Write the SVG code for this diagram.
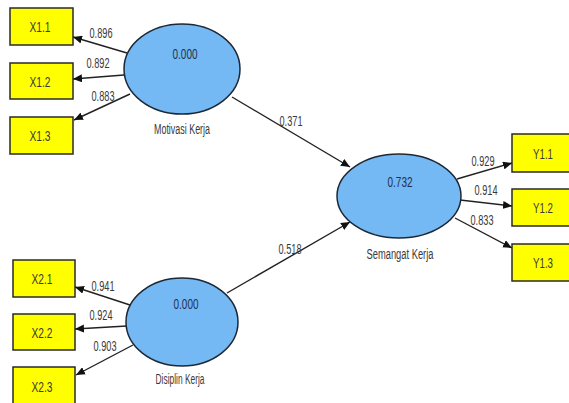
<svg xmlns="http://www.w3.org/2000/svg" width="569" height="403" viewBox="0 0 569 403">
<defs>
<marker id="ah" markerUnits="userSpaceOnUse" markerWidth="10" markerHeight="8" refX="9" refY="4" orient="auto">
<path d="M0,0 L9,4 L0,8 Z" fill="#111"/>
</marker>
<style>
text{font-family:"Liberation Sans",Arial,sans-serif}
.box{fill:#ffff00;stroke:#2a2a2a;stroke-width:1.5}
.lv{fill:#74b9f3;stroke:#1c2836;stroke-width:1.5}
.bt{font-size:14.5px;fill:#3a3a3a;text-anchor:middle}
.val{font-size:14.5px;fill:#1f3050;text-anchor:middle}
.nm{font-size:14px;fill:#3a3a3a;text-anchor:middle}
.lb{font-size:14px;fill:#3a3a3a;text-anchor:middle}
.ln{stroke:#222;stroke-width:1.4;fill:none;marker-end:url(#ah)}
</style>
</defs>
<rect width="569" height="403" fill="#fff"/>
<g id="connectors">
<line class="ln" x1="127" y1="53" x2="73" y2="37"/>
<line class="ln" x1="124" y1="75" x2="73" y2="79"/>
<line class="ln" x1="130" y1="94" x2="74" y2="120"/>
<line class="ln" x1="130" y1="305" x2="75" y2="287"/>
<line class="ln" x1="127" y1="326" x2="75" y2="329"/>
<line class="ln" x1="133" y1="345" x2="76" y2="375"/>
<line class="ln" x1="457" y1="179" x2="512" y2="163"/>
<line class="ln" x1="460" y1="200" x2="512" y2="206"/>
<line class="ln" x1="455" y1="218" x2="512" y2="248"/>
<line class="ln" x1="232" y1="97" x2="350" y2="167"/>
<line class="ln" x1="227" y1="293" x2="350" y2="222"/>
<text class="lb" x="101" y="38" textLength="23" lengthAdjust="spacingAndGlyphs">0.896</text>
<text class="lb" x="98" y="68" textLength="23" lengthAdjust="spacingAndGlyphs">0.892</text>
<text class="lb" x="103" y="101" textLength="23" lengthAdjust="spacingAndGlyphs">0.883</text>
<text class="lb" x="103" y="291" textLength="23" lengthAdjust="spacingAndGlyphs">0.941</text>
<text class="lb" x="101" y="320" textLength="23" lengthAdjust="spacingAndGlyphs">0.924</text>
<text class="lb" x="105" y="351" textLength="23" lengthAdjust="spacingAndGlyphs">0.903</text>
<text class="lb" x="483" y="166" textLength="23" lengthAdjust="spacingAndGlyphs">0.929</text>
<text class="lb" x="486" y="195" textLength="23" lengthAdjust="spacingAndGlyphs">0.914</text>
<text class="lb" x="482" y="225" textLength="23" lengthAdjust="spacingAndGlyphs">0.833</text>
<text class="lb" x="291" y="126" textLength="23" lengthAdjust="spacingAndGlyphs">0.371</text>
<text class="lb" x="290" y="254" textLength="23" lengthAdjust="spacingAndGlyphs">0.518</text>
</g>
<g id="X1.1"><rect class="box" x="10" y="8" width="63" height="37"/><text class="bt" x="40" y="32" textLength="21" lengthAdjust="spacingAndGlyphs">X1.1</text></g>
<g id="X1.2"><rect class="box" x="10" y="63" width="63" height="36"/><text class="bt" x="40" y="87" textLength="21" lengthAdjust="spacingAndGlyphs">X1.2</text></g>
<g id="X1.3"><rect class="box" x="10" y="117" width="63" height="37"/><text class="bt" x="40" y="141" textLength="21" lengthAdjust="spacingAndGlyphs">X1.3</text></g>
<g id="X2.1"><rect class="box" x="13" y="260" width="62" height="37"/><text class="bt" x="42" y="284" textLength="21" lengthAdjust="spacingAndGlyphs">X2.1</text></g>
<g id="X2.2"><rect class="box" x="13" y="314" width="62" height="36"/><text class="bt" x="42" y="338" textLength="21" lengthAdjust="spacingAndGlyphs">X2.2</text></g>
<g id="X2.3"><rect class="box" x="13" y="367" width="62" height="38"/><text class="bt" x="42" y="392" textLength="21" lengthAdjust="spacingAndGlyphs">X2.3</text></g>
<g id="Y1.1"><rect class="box" x="512" y="134" width="62" height="38"/><text class="bt" x="543" y="159" textLength="20" lengthAdjust="spacingAndGlyphs">Y1.1</text></g>
<g id="Y1.2"><rect class="box" x="512" y="189" width="62" height="37"/><text class="bt" x="543" y="213" textLength="20" lengthAdjust="spacingAndGlyphs">Y1.2</text></g>
<g id="Y1.3"><rect class="box" x="512" y="244" width="62" height="37"/><text class="bt" x="543" y="268" textLength="20" lengthAdjust="spacingAndGlyphs">Y1.3</text></g>
<g id="MotivasiKerja"><ellipse class="lv" cx="182" cy="69" rx="58" ry="45"/><text class="val" x="185" y="59" textLength="25" lengthAdjust="spacingAndGlyphs">0.000</text><text class="nm" x="182" y="134" textLength="56" lengthAdjust="spacingAndGlyphs">Motivasi Kerja</text></g>
<g id="DisiplinKerja"><ellipse class="lv" cx="182" cy="322" rx="56" ry="44"/><text class="val" x="186" y="309" textLength="25" lengthAdjust="spacingAndGlyphs">0.000</text><text class="nm" x="180" y="384" textLength="49" lengthAdjust="spacingAndGlyphs">Disiplin Kerja</text></g>
<g id="SemangatKerja"><ellipse class="lv" cx="399" cy="196" rx="62" ry="42"/><text class="val" x="400" y="187" textLength="25" lengthAdjust="spacingAndGlyphs">0.732</text><text class="nm" x="400" y="259" textLength="67" lengthAdjust="spacingAndGlyphs">Semangat Kerja</text></g>
</svg>
